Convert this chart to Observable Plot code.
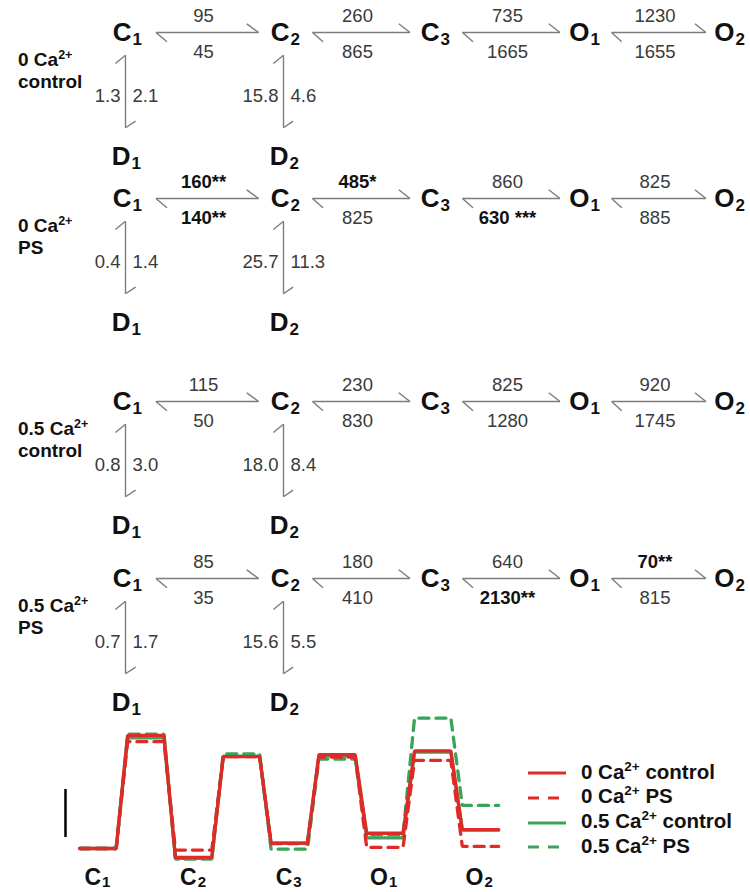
<!DOCTYPE html>
<html><head><meta charset="utf-8">
<script src="https://cdn.jsdelivr.net/npm/d3@7"></script>
<script src="https://cdn.jsdelivr.net/npm/@observablehq/plot@0.6"></script>
<style>
body{margin:0;background:#fff;font-family:"Liberation Sans",Arial,sans-serif;}
#wrap{position:relative;width:750px;height:892px;overflow:hidden;background:#fff;}
.panel{position:absolute;left:0;}
.cond{position:absolute;left:18px;font-weight:bold;font-size:19px;line-height:20px;color:#111;white-space:nowrap;}
.cond sup{font-size:12.5px;vertical-align:baseline;position:relative;top:-7px;}
#legend sup{font-size:13.5px;vertical-align:baseline;position:relative;top:-8px;}
#legend{position:absolute;left:528px;top:761px;font-weight:bold;font-size:20.5px;color:#111;}
#legend .row{height:24.7px;line-height:24.7px;white-space:nowrap;display:flex;align-items:center;}
#legend svg{margin-right:15px;}
</style></head><body><div id="wrap"></div>
<script>
// ---- data ----
const stateLetters = ["C","C","C","O","O"];
const stateSubs = ["1","2","3","1","2"];
const dSubs = ["1","2"];
const conditionIon = ["0","0","0.5","0.5"];
const conditionTreat = ["control","PS","control","PS"];
// forward (upper) and backward (lower) rates C1-C2, C2-C3, C3-O1, O1-O2
const forwardRates = [[95,260,735,1230],[160,485,860,825],[115,230,825,920],[85,180,640,70]];
const forwardSig   = [["","","",""],["**","*","",""],["","","",""],["","","","**"]];
const backwardRates= [[45,865,1665,1655],[140,825,630,885],[50,830,1280,1745],[35,410,2130,815]];
const backwardSig  = [["","","",""],["**",""," ***",""],["","","",""],["","","**",""]];
// C-D transitions (left, right labels) for C1-D1 and C2-D2
const dRatesLeft  = [[1.3,15.8],[0.4,25.7],[0.8,18.0],[0.7,15.6]];
const dRatesRight = [[2.1,4.6],[1.4,11.3],[3.0,8.4],[1.7,5.5]];
// free-energy profile (kT) C1, barrier, C2, barrier, C3, barrier, O1, barrier, O2
const energy0Control  = [0, 9.42, -0.75, 7.66, 0.45, 7.82, 1.27, 8.13, 1.57];
const energy0PS       = [0, 8.90, -0.13, 7.66, 0.40, 7.61, 0.09, 7.35, 0.17];
const energy05Control = [0, 9.23, -0.83, 7.70, 0.45, 7.71, 0.89, 8.04, 1.53];
const energy05PS      = [0, 9.53, -0.89, 7.89, -0.06, 7.45, 1.14, 10.86, 3.59];
const seriesNames = ["0 Ca control","0 Ca PS","0.5 Ca control","0.5 Ca PS"];
const scaleBarKT = 4;

// ---- layout / style ----
const FONT = "Liberation Sans, Arial, sans-serif";
const RED = "#dd2b27", GREEN = "#3aa35a";
const seriesStyle = [
  {ion:"0", treat:"control", color:RED, dash:null, e:energy0Control},
  {ion:"0", treat:"PS", color:RED, dash:"10,7", e:energy0PS},
  {ion:"0.5", treat:"control", color:GREEN, dash:null, e:energy05Control},
  {ion:"0.5", treat:"PS", color:GREEN, dash:"10,7", e:energy05PS}
];
const schemeLineY = [32, 198, 401, 578];
const wrap = document.getElementById("wrap");
const grey = "#7c7c7c", txt = "#3a3a3a", dark = "#111";

function schemePlot(i) {
  const edges = d3.range(4).map(j => ({j, f: forwardRates[i][j], fs: forwardSig[i][j], b: backwardRates[i][j], bs: backwardSig[i][j]}));
  const states = stateLetters.map((l, k) => ({k, l, s: stateSubs[k]}));
  const dStates = dSubs.map((s, k) => ({k, l: "D", s, left: dRatesLeft[i][k], right: dRatesRight[i][k]}));
  const lk = {stroke: grey, strokeWidth: 1.4};
  const tx = {fontFamily: FONT, fontSize: 18.5};
  return Plot.plot({
    width: 750, height: 175,
    x: {type: "linear", domain: [0,1,2,3,4], range: [127,285,435,585,730], axis: null},
    y: {type: "linear", domain: [0,1], range: [30,154], axis: null},
    style: {background: "transparent", overflow: "visible"},
    marks: [
      Plot.link(edges, {x1: d => d.j + 0.18, x2: d => d.j + 0.83, y1: d => 0, y2: d => 0, ...lk}),
      Plot.link(edges, {x1: d => d.j + 0.18, x2: d => d.j + 0.25, y1: d => 0, y2: d => 0.075, ...lk}),
      Plot.link(edges, {x1: d => d.j + 0.83, x2: d => d.j + 0.755, y1: d => 0, y2: d => -0.07, ...lk}),
      Plot.link(dStates, {x1: "k", x2: "k", y1: d => 0.184, y2: d => 0.768, dx: -2, ...lk}),
      Plot.link(dStates, {x1: "k", x2: d => d.k - 0.064, y1: d => 0.184, y2: d => 0.25, dx: -2, ...lk}),
      Plot.link(dStates, {x1: "k", x2: d => d.k + 0.064, y1: d => 0.768, y2: d => 0.715, dx: -2, ...lk}),
      Plot.text(edges, {filter: d => !d.fs, x: d => d.j + 0.5, y: d => 0, dx: -3, dy: -16, text: d => String(d.f), fill: txt, ...tx}),
      Plot.text(edges, {filter: d => d.fs, x: d => d.j + 0.5, y: d => 0, dx: -3, dy: -16, text: d => d.f + d.fs, fill: dark, fontWeight: "bold", ...tx}),
      Plot.text(edges, {filter: d => !d.bs, x: d => d.j + 0.5, y: d => 0, dx: -3, dy: 20, text: d => String(d.b), fill: txt, ...tx}),
      Plot.text(edges, {filter: d => d.bs, x: d => d.j + 0.5, y: d => 0, dx: -3, dy: 20, text: d => d.b + d.bs, fill: dark, fontWeight: "bold", ...tx}),
      Plot.text(dStates, {x: "k", y: d => 0, dy: 64, dx: -7, textAnchor: "end", text: d => d.left.toFixed(1), fill: txt, ...tx}),
      Plot.text(dStates, {x: "k", y: d => 0, dy: 64, dx: 5, textAnchor: "start", text: d => d.right.toFixed(1), fill: txt, ...tx}),
      Plot.text(states, {x: "k", y: d => 0, text: "l", textAnchor: "end", dx: 4, fontSize: 26, fontWeight: "bold", fill: dark, fontFamily: FONT}),
      Plot.text(states, {x: "k", y: d => 0, text: "s", textAnchor: "start", dx: 5, dy: 7, fontSize: 17, fontWeight: "bold", fill: dark, fontFamily: FONT}),
      Plot.text(dStates, {x: "k", y: d => 1, text: "l", textAnchor: "end", dx: 3, fontSize: 26, fontWeight: "bold", fill: dark, fontFamily: FONT}),
      Plot.text(dStates, {x: "k", y: d => 1, text: "s", textAnchor: "start", dx: 4, dy: 7, fontSize: 17, fontWeight: "bold", fill: dark, fontFamily: FONT})
    ]
  });
}

schemeLineY.forEach((ly, i) => {
  const p = schemePlot(i);
  p.classList.add("panel");
  p.style.top = (ly - 30) + "px";
  wrap.appendChild(p);
  const lab = document.createElement("div");
  lab.className = "cond";
  lab.style.top = (ly + 18) + "px";
  lab.innerHTML = `${conditionIon[i]} Ca<sup>2+</sup><br>${conditionTreat[i]}`;
  wrap.appendChild(lab);
});

// energy profile
const half = 0.38;
const wells = stateLetters.map((l, k) => ({x: 2 * k, l, s: stateSubs[k]}));
const energyMarks = [2, 3, 1, 0].map(si => {
  const st = seriesStyle[si];
  const pts = [];
  st.e.forEach((e, k) => { pts.push({x: k - half, e}); pts.push({x: k + half, e}); });
  return Plot.line(pts, {x: "x", y: "e", stroke: st.color, strokeWidth: 3.3, strokeDasharray: st.dash || undefined, strokeLinejoin: "miter"});
});
const ep = Plot.plot({
  width: 520, height: 187,
  x: {domain: [0, 8], range: [97.5, 480], axis: null},
  y: {domain: [0, 10], range: [143, 23], axis: null},
  style: {background: "transparent", overflow: "visible"},
  marks: [
    Plot.ruleX([-0.68], {y1: d => 0.92, y2: d => 0.92 + scaleBarKT, stroke: "#000", strokeWidth: 2.5}),
    ...energyMarks,
    Plot.text(wells, {x: "x", y: d => 0, dy: 29, text: "l", textAnchor: "end", dx: 3, fontSize: 23, fontWeight: "bold", fill: dark, fontFamily: FONT}),
    Plot.text(wells, {x: "x", y: d => 0, dy: 34, text: "s", textAnchor: "start", dx: 4, fontSize: 15, fontWeight: "bold", fill: dark, fontFamily: FONT})
  ]
});
ep.classList.add("panel");
ep.style.top = "705px";
wrap.appendChild(ep);

// legend
const leg = document.createElement("div");
leg.id = "legend";
seriesStyle.forEach(st => {
  const row = document.createElement("div");
  row.className = "row";
  row.innerHTML = `<svg width="38" height="10"><line x1="0" x2="38" y1="5" y2="5" stroke="${st.color}" stroke-width="3" ${st.dash ? `stroke-dasharray="11,9"` : ""}/></svg><span>${st.ion} Ca<sup>2+</sup> ${st.treat}</span>`;
  leg.appendChild(row);
});
wrap.appendChild(leg);
</script>
</body></html>
